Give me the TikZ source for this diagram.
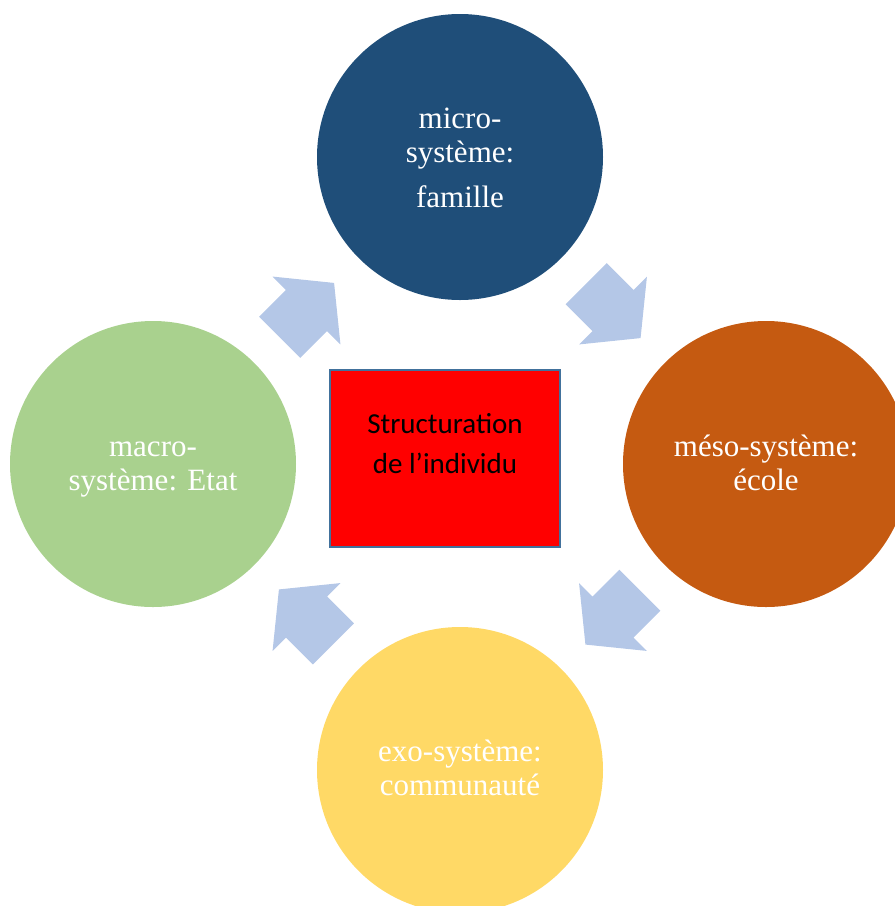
\documentclass[tikz,border=0pt]{standalone}
\usepackage{fontspec}
\setmainfont{Liberation Serif}
\newfontfamily\boxfont{Carlito}
\usetikzlibrary{calc}

\definecolor{microblue}{HTML}{1F4E79}
\definecolor{mesoorange}{HTML}{C55A11}
\definecolor{exoyellow}{HTML}{FFD966}
\definecolor{macrogreen}{HTML}{A9D18E}
\definecolor{flowblue}{HTML}{B4C7E7}
\definecolor{boxborder}{HTML}{41719C}

\tikzset{
  sphere/.style={circle, draw=none, minimum size=286pt, inner sep=0pt},
  spheretext/.style={text=white, align=center, inner sep=0pt,
    font=\fontsize{31}{34}\selectfont},
  corebox/.style={draw=boxborder, line width=2.5pt, fill=red,
    minimum width=230pt, minimum height=177pt, inner sep=0pt},
  coretext/.style={align=center, inner sep=0pt,
    font=\boxfont\fontsize{29}{40}\selectfont},
  flowarrow/.style={fill=flowblue, draw=none}
}

% block arrow centred on the origin, pointing along +x
\newcommand{\flowshape}{(-38,29) -- (0,29) -- (0,48) -- (39,0) -- (0,-48) -- (0,-29) -- (-38,-29) -- cycle}

\begin{document}
\begin{tikzpicture}[x=1pt, y=-1pt]
  \useasboundingbox (0,0) rectangle (895,906);
  \clip (0,0) rectangle (895,906);

  % the four surrounding systems
  \node[sphere, fill=microblue]  (micro) at (460,157) {};
  \node[sphere, fill=mesoorange] (meso)  at (766,464) {};
  \node[sphere, fill=exoyellow]  (exo)   at (460,770) {};
  \node[sphere, fill=macrogreen] (macro) at (153,464) {};

  \node[spheretext] (microtext) at (460,158) {micro-\\système:\\[11pt]famille};
  \node[spheretext] (mesotext)  at (766,463) {méso-système:\\école};
  \node[spheretext] (exotext)   at (460,768) {exo-système:\\communauté};
  \node[spheretext] (macrotext) at (153,470) {macro-\\système: Etat};

  % centre
  \node[corebox] (core) at (445,458.5) {};
  \node[coretext] (coretxt) at (445,443.5) {Structuration\\de l’individu};

  % circular flow between the systems
  \fill[flowarrow, shift={($(micro)!0.5!(meso)$)}, rotate=-45] \flowshape;
  \fill[flowarrow, shift={($(meso)!0.5!(exo)$)}, rotate=-135] \flowshape;
  \fill[flowarrow, shift={($(exo)!0.5!(macro)$)}, rotate=135] \flowshape;
  \fill[flowarrow, shift={($(macro)!0.5!(micro)$)}, rotate=45] \flowshape;
\end{tikzpicture}
\end{document}
